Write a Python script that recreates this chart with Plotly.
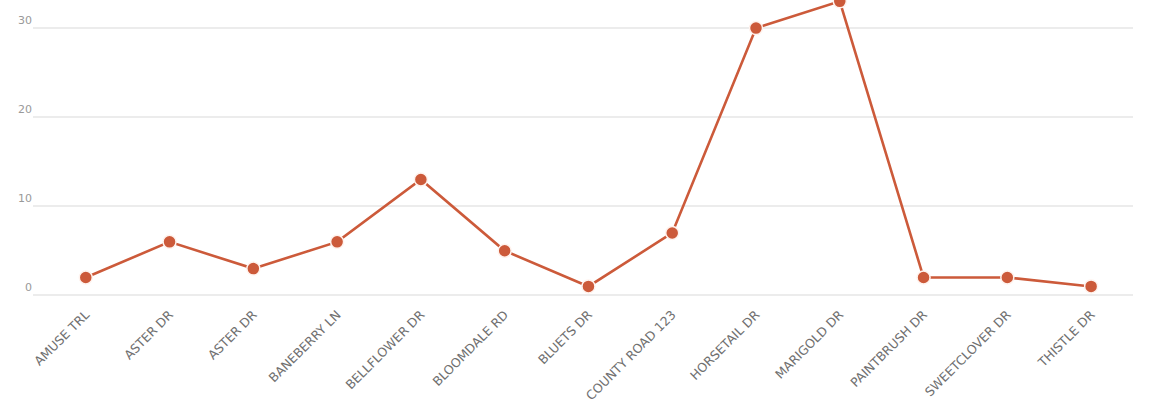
import plotly.graph_objects as go

# Street names and counts per street
streets = [
    "AMUSE TRL", "ASTER DR", "ASTER DR ", "BANEBERRY LN", "BELLFLOWER DR",
    "BLOOMDALE RD", "BLUETS DR", "COUNTY ROAD 123", "HORSETAIL DR",
    "MARIGOLD DR", "PAINTBRUSH DR", "SWEETCLOVER DR", "THISTLE DR",
]
counts = [2, 6, 3, 6, 13, 5, 1, 7, 30, 33, 2, 2, 1]
y_ticks = [0, 10, 20, 30]

line_color = "#cc5a3a"

fig = go.Figure(
    go.Scatter(
        x=list(range(len(streets))),
        y=counts,
        mode="lines+markers",
        line=dict(color=line_color, width=2.6),
        marker=dict(size=13, color=line_color, line=dict(color="#fff3ee", width=1.5)),
        cliponaxis=False,
        hoverinfo="skip",
    )
)

fig.update_layout(
    width=1153,
    height=416,
    margin=dict(l=33, r=20, t=0, b=118),
    paper_bgcolor="white",
    plot_bgcolor="white",
    showlegend=False,
    font=dict(family="DejaVu Sans", color="#8a8a8a"),
)

fig.update_xaxes(
    tickmode="array",
    tickvals=list(range(len(streets))),
    ticktext=[s.strip() for s in streets],
    tickangle=-45,
    tickfont=dict(size=12.5, color="#707070"),
    ticklabelstandoff=6,
    range=[-0.63, 12.5],
    showgrid=False,
    zeroline=False,
    showline=False,
    ticks="",
)

fig.update_yaxes(
    tickmode="array",
    tickvals=y_ticks,
    ticktext=[str(v) for v in y_ticks],
    range=[-0.3, 33.15],
    showgrid=True,
    gridcolor="#ececec",
    gridwidth=1.5,
    zeroline=False,
    showline=False,
    ticks="",
    ticklabelposition="outside top",
    tickfont=dict(size=11, color="#999999"),
)

fig.write_html("out.html")
